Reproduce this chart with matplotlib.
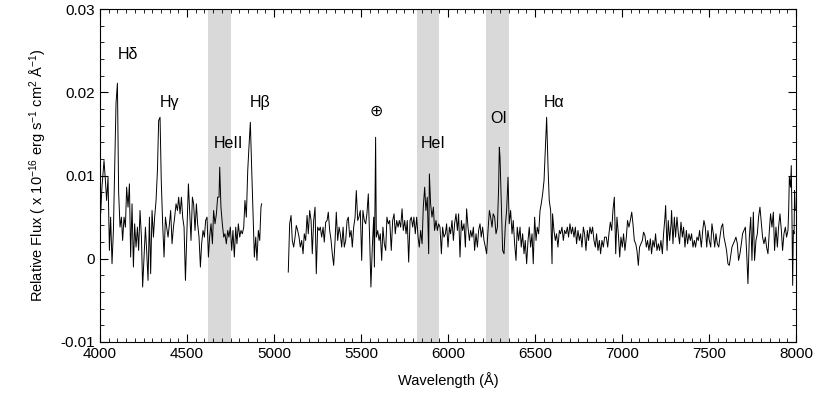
#!/usr/bin/env python3
"""Optical spectrum with emission-line labels and masked (shaded) regions."""

import matplotlib

matplotlib.use("Agg")
import matplotlib.pyplot as plt
import numpy as np
from matplotlib.ticker import FuncFormatter, MultipleLocator

OUTPUT = "out.png"

# Blue-arm segment (Angstrom, flux in units of 1e-16 erg/s/cm2/A)
WAVE_BLUE = [
    4004, 4011, 4023, 4031, 4038, 4046, 4054, 4061, 4069, 4077, 4084, 4092,
    4100, 4107, 4115, 4123, 4130, 4138, 4146, 4153, 4161, 4169, 4176, 4184,
    4192, 4199, 4207, 4215, 4222, 4230, 4238, 4245, 4253, 4261, 4268, 4276,
    4284, 4291, 4299, 4307, 4314, 4322, 4330, 4337, 4345, 4352, 4360, 4368,
    4376, 4383, 4391, 4399, 4406, 4414, 4422, 4429, 4437, 4445, 4452, 4460,
    4468, 4475, 4483, 4491, 4499, 4508, 4515, 4523, 4531, 4538, 4546, 4554,
    4561, 4569, 4577, 4584, 4592, 4600, 4607, 4615, 4623, 4630, 4638, 4646,
    4653, 4661, 4669, 4676, 4684, 4688, 4695, 4703, 4711, 4718, 4726, 4734,
    4741, 4749, 4757, 4764, 4772, 4780, 4787, 4795, 4803, 4810, 4818, 4826,
    4833, 4841, 4849, 4856, 4864, 4872, 4879, 4887, 4895, 4902, 4910, 4918,
    4925, 4929,
]
FLUX_BLUE = [
    0.0055, 0.0086, 0.0118, 0.0094, 0.0070, 0.0098, 0.0010, 0.0050, -0.0006, 0.0034, 0.0106, 0.0187,
    0.0211, 0.0080, 0.0038, 0.0050, 0.0022, 0.0050, 0.0038, 0.0086, 0.0062, 0.0090, 0.0002, 0.0066,
    -0.0010, 0.0042, 0.0014, 0.0038, 0.0010, 0.0058, 0.0026, -0.0034, 0.0002, 0.0038, 0.0010, -0.0026,
    0.0050, -0.0018, 0.0058, 0.0026, 0.0050, 0.0070, 0.0106, 0.0166, 0.0170, 0.0094, 0.0042, 0.0002,
    0.0050, 0.0038, 0.0026, 0.0042, 0.0058, 0.0018, 0.0038, 0.0050, 0.0066, 0.0058, 0.0074, 0.0054,
    0.0074, 0.0050, 0.0038, -0.0026, 0.0030, 0.0090, 0.0058, 0.0022, 0.0074, 0.0066, 0.0034, 0.0066,
    0.0042, 0.0026, -0.0010, 0.0018, 0.0034, 0.0026, 0.0046, 0.0050, 0.0002, 0.0026, 0.0042, 0.0018,
    0.0058, 0.0042, 0.0054, 0.0074, 0.0074, 0.0110, 0.0062, 0.0042, 0.0026, 0.0030, 0.0018, 0.0034,
    0.0026, 0.0038, 0.0010, 0.0034, 0.0002, 0.0038, 0.0018, 0.0042, 0.0026, 0.0034, 0.0030, 0.0038,
    0.0070, 0.0050, 0.0106, 0.0134, 0.0164, 0.0106, 0.0058, 0.0002, 0.0026, -0.0002, 0.0034, 0.0022,
    0.0062, 0.0066,
]

# Red-arm segment
WAVE_RED = [
    5082, 5090, 5098, 5105, 5113, 5121, 5128, 5136, 5144, 5151, 5159, 5167,
    5174, 5182, 5190, 5197, 5205, 5213, 5220, 5228, 5236, 5243, 5251, 5259,
    5266, 5274, 5282, 5289, 5297, 5305, 5312, 5320, 5328, 5335, 5343, 5351,
    5358, 5366, 5374, 5381, 5389, 5397, 5404, 5412, 5420, 5427, 5435, 5443,
    5450, 5458, 5466, 5473, 5481, 5488, 5496, 5504, 5511, 5519, 5527, 5534,
    5542, 5550, 5557, 5565, 5573, 5577, 5584, 5588, 5596, 5604, 5611, 5619,
    5626, 5634, 5642, 5649, 5657, 5665, 5674, 5682, 5690, 5697, 5705, 5713,
    5720, 5728, 5736, 5743, 5751, 5759, 5766, 5774, 5782, 5789, 5797, 5804,
    5812, 5820, 5828, 5835, 5843, 5851, 5858, 5866, 5873, 5881, 5889, 5893,
    5900, 5908, 5916, 5923, 5931, 5939, 5946, 5954, 5962, 5969, 5977, 5985,
    5992, 6000, 6008, 6015, 6023, 6031, 6038, 6046, 6054, 6061, 6069, 6077,
    6084, 6092, 6100, 6107, 6115, 6123, 6130, 6138, 6146, 6153, 6161, 6169,
    6176, 6184, 6191, 6199, 6207, 6215, 6222, 6230, 6238, 6245, 6253, 6260,
    6268, 6276, 6284, 6291, 6295, 6299, 6306, 6314, 6322, 6329, 6337, 6345,
    6352, 6360, 6368, 6375, 6383, 6391, 6398, 6406, 6414, 6421, 6429, 6437,
    6444, 6452, 6460, 6467, 6475, 6483, 6490, 6498, 6506, 6513, 6521, 6529,
    6536, 6544, 6552, 6559, 6567, 6575, 6582, 6590, 6598, 6601, 6609, 6617,
    6624, 6632, 6640, 6647, 6655, 6663, 6670, 6678, 6686, 6693, 6701, 6709,
    6716, 6724, 6732, 6739, 6747, 6755, 6762, 6770, 6778, 6785, 6793, 6801,
    6808, 6816, 6824, 6831, 6839, 6847, 6854, 6862, 6870, 6877, 6885, 6893,
    6900, 6910, 6918, 6925, 6933, 6941, 6948, 6956, 6964, 6971, 6979, 6987,
    6994, 7002, 7009, 7017, 7025, 7032, 7040, 7048, 7056, 7063, 7071, 7079,
    7086, 7094, 7101, 7109, 7117, 7124, 7132, 7140, 7147, 7155, 7163, 7170,
    7178, 7186, 7193, 7201, 7209, 7216, 7224, 7232, 7239, 7247, 7251, 7259,
    7266, 7274, 7282, 7285, 7293, 7301, 7308, 7316, 7324, 7331, 7339, 7347,
    7354, 7362, 7370, 7377, 7385, 7393, 7400, 7408, 7416, 7423, 7431, 7439,
    7446, 7456, 7464, 7471, 7479, 7487, 7494, 7502, 7510, 7517, 7525, 7533,
    7540, 7548, 7556, 7563, 7571, 7579, 7586, 7594, 7601, 7609, 7617, 7624,
    7632, 7640, 7648, 7655, 7663, 7670, 7678, 7686, 7693, 7701, 7709, 7716,
    7724, 7732, 7740, 7747, 7755, 7762, 7770, 7778, 7785, 7793, 7801, 7808,
    7816, 7824, 7831, 7839, 7847, 7854, 7862, 7870, 7877, 7885, 7893, 7900,
    7908, 7916, 7923, 7931, 7939, 7946, 7954, 7958, 7962, 7969, 7973, 7977,
    7981, 7985, 7989, 7992, 7996,
]
FLUX_RED = [
    -0.0016, 0.0042, 0.0052, 0.0022, 0.0014, 0.0026, 0.0040, 0.0034, 0.0026, 0.0014, 0.0022, 0.0006,
    0.0030, 0.0022, 0.0052, 0.0030, 0.0058, 0.0046, 0.0006, 0.0046, 0.0062, -0.0018, 0.0038, 0.0034,
    0.0038, 0.0026, 0.0038, 0.0020, 0.0044, 0.0046, 0.0056, 0.0034, 0.0022, 0.0006, -0.0008, 0.0022,
    0.0056, 0.0022, 0.0038, 0.0030, 0.0014, 0.0038, 0.0014, 0.0022, 0.0046, 0.0050, 0.0026, 0.0034,
    0.0014, 0.0038, 0.0050, 0.0082, 0.0046, 0.0050, 0.0058, -0.0002, 0.0058, 0.0046, 0.0042, 0.0054,
    0.0078, 0.0022, -0.0034, 0.0014, 0.0050, -0.0010, 0.0146, 0.0026, 0.0034, 0.0022, 0.0030, -0.0002,
    0.0038, 0.0018, 0.0010, 0.0050, 0.0042, 0.0046, 0.0010, 0.0046, 0.0054, 0.0030, 0.0046, 0.0038,
    0.0046, 0.0038, 0.0060, 0.0034, 0.0046, 0.0030, 0.0046, -0.0004, 0.0046, 0.0050, 0.0038, 0.0050,
    0.0030, 0.0050, 0.0026, 0.0014, 0.0034, 0.0018, 0.0062, 0.0086, 0.0058, 0.0074, 0.0006, 0.0102,
    0.0066, 0.0050, 0.0062, 0.0034, 0.0046, 0.0034, 0.0042, 0.0038, 0.0006, 0.0038, 0.0026, 0.0030,
    0.0042, 0.0014, 0.0038, 0.0030, 0.0046, 0.0022, 0.0042, 0.0054, 0.0034, 0.0054, 0.0002, 0.0046,
    0.0034, 0.0042, 0.0014, 0.0060, 0.0038, 0.0022, 0.0034, 0.0026, 0.0038, 0.0010, 0.0030, 0.0014,
    0.0034, 0.0042, 0.0026, 0.0038, 0.0022, 0.0014, 0.0006, 0.0034, 0.0058, 0.0050, 0.0038, 0.0054,
    0.0050, 0.0030, 0.0038, 0.0086, 0.0134, 0.0122, 0.0070, 0.0010, 0.0006, 0.0038, 0.0058, 0.0098,
    0.0042, 0.0058, 0.0030, 0.0046, 0.0018, -0.0002, 0.0038, 0.0022, 0.0038, 0.0014, 0.0030, 0.0006,
    0.0022, -0.0006, 0.0022, 0.0038, 0.0014, 0.0030, -0.0006, 0.0050, 0.0022, 0.0038, 0.0030, 0.0058,
    0.0066, 0.0078, 0.0094, 0.0130, 0.0170, 0.0110, 0.0070, 0.0058, -0.0006, 0.0054, 0.0034, 0.0022,
    0.0030, 0.0014, 0.0034, 0.0030, 0.0038, 0.0022, 0.0034, 0.0030, 0.0038, 0.0026, 0.0042, 0.0030,
    0.0038, 0.0026, 0.0038, 0.0018, 0.0034, 0.0022, 0.0030, 0.0014, 0.0038, 0.0030, 0.0010, 0.0034,
    0.0022, 0.0038, 0.0030, 0.0038, 0.0022, 0.0014, 0.0030, 0.0010, 0.0022, 0.0006, 0.0022, 0.0014,
    0.0026, 0.0026, 0.0014, 0.0030, 0.0044, 0.0034, 0.0058, 0.0074, 0.0006, 0.0050, 0.0030, 0.0002,
    0.0026, 0.0014, 0.0030, 0.0010, 0.0026, 0.0046, 0.0038, 0.0046, 0.0056, 0.0042, 0.0022, 0.0018,
    0.0010, -0.0008, 0.0014, 0.0018, 0.0022, 0.0032, 0.0028, 0.0014, 0.0022, 0.0010, 0.0024, 0.0006,
    0.0022, 0.0014, 0.0030, 0.0010, 0.0018, 0.0010, 0.0022, 0.0006, 0.0030, 0.0050, 0.0064, 0.0010,
    0.0046, 0.0022, 0.0042, 0.0058, 0.0018, 0.0050, 0.0026, 0.0050, 0.0030, 0.0018, 0.0044, 0.0026,
    0.0038, 0.0014, 0.0034, 0.0018, 0.0030, 0.0022, 0.0030, 0.0014, 0.0022, 0.0014, 0.0026, 0.0022,
    0.0034, 0.0014, 0.0034, 0.0046, 0.0038, 0.0014, 0.0034, 0.0022, 0.0014, 0.0042, 0.0030, 0.0014,
    0.0030, 0.0018, 0.0014, 0.0026, 0.0038, 0.0042, 0.0026, 0.0018, 0.0010, -0.0006, -0.0008, 0.0002,
    0.0014, 0.0018, 0.0022, 0.0026, 0.0018, -0.0002, 0.0006, 0.0018, 0.0030, 0.0034, 0.0038, 0.0010,
    -0.0030, 0.0026, 0.0050, -0.0002, 0.0056, -0.0002, 0.0022, 0.0030, 0.0050, 0.0062, 0.0042, 0.0026,
    0.0018, 0.0026, 0.0014, 0.0006, 0.0034, 0.0054, 0.0038, 0.0056, 0.0010, 0.0038, 0.0014, 0.0038,
    0.0054, 0.0034, 0.0010, 0.0030, 0.0038, 0.0026, 0.0034, 0.0058, 0.0098, 0.0086, 0.0112, 0.0050,
    -0.0032, 0.0034, 0.0030, 0.0082, 0.0058,
]

# Masked wavelength windows (shaded grey)
MASK_LO = [4620, 5820, 6220]
MASK_HI = [4750, 5950, 6350]

# Line identifications: label, wavelength, flux position of text
LINE_LABELS = ["Hδ", "Hγ", "HeII", "Hβ", "⊕", "HeI", "OI", "Hα"]
LINE_WAVE = [4161, 4402, 4736, 4920, 5586, 5914, 6293, 6609]
LINE_FLUX = [0.0246, 0.0188, 0.0138, 0.0188, 0.0177, 0.0138, 0.0168, 0.0188]


def main():
    plt.rcParams["font.family"] = ["Liberation Sans", "DejaVu Sans"]
    plt.rcParams["mathtext.default"] = "regular"
    plt.rcParams["axes.unicode_minus"] = False

    fig = plt.figure(figsize=(8.3, 4.15), dpi=100)
    ax = fig.add_axes([0.1205, 0.176, 0.8385, 0.802])

    for lo, hi in zip(MASK_LO, MASK_HI):
        ax.axvspan(lo, hi, color="#d9d9d9", lw=0, zorder=0)

    ax.plot(np.array(WAVE_BLUE), np.array(FLUX_BLUE), color="black", lw=0.7, zorder=2)
    ax.plot(np.array(WAVE_RED), np.array(FLUX_RED), color="black", lw=0.7, zorder=2)

    for lab, wl, fl in zip(LINE_LABELS, LINE_WAVE, LINE_FLUX):
        ax.text(wl, fl, lab, ha="center", va="center", fontsize=11.5)

    ax.set_xlim(4000, 8000)
    ax.set_ylim(-0.01, 0.03)
    ax.xaxis.set_major_locator(MultipleLocator(500))
    ax.xaxis.set_minor_locator(MultipleLocator(50))
    ax.yaxis.set_major_locator(MultipleLocator(0.01))
    ax.yaxis.set_minor_locator(MultipleLocator(0.002))
    ax.yaxis.set_major_formatter(FuncFormatter(lambda v, p: f"{v:g}" if abs(v) > 1e-9 else "0"))

    ax.tick_params(which="both", direction="in", top=True, right=True, labelsize=11)
    ax.tick_params(which="major", length=6, width=0.8)
    ax.tick_params(which="minor", length=3, width=0.6)
    for sp in ax.spines.values():
        sp.set_linewidth(0.8)

    ax.set_xlabel("Wavelength (Å)", fontsize=10.5, labelpad=8)
    ax.set_ylabel("Relative Flux ( x 10$^{-16}$ erg s$^{-1}$ cm$^{2}$ Å$^{-1}$)", fontsize=10.5,
                  labelpad=8)

    fig.savefig(OUTPUT, dpi=100)
    plt.close(fig)


if __name__ == "__main__":
    main()
